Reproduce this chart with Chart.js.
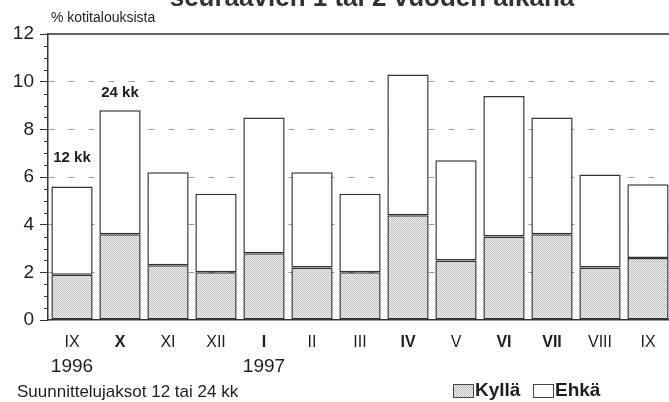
<!DOCTYPE html>
<html>
<head>
<meta charset="utf-8">
<script src="https://cdn.jsdelivr.net/npm/chart.js@4/dist/chart.umd.min.js"></script>
<style>
  html, body { margin: 0; padding: 0; background: #fff; overflow: hidden; }
  canvas { display: block; }
</style>
</head>
<body>
<canvas id="kotitaloudet" width="680" height="402"></canvas>
<script>
// kuukaudet (roomalaiset numerot), lihavoidut = 24 kk suunnittelujakso
const months = ['IX', 'X', 'XI', 'XII', 'I', 'II', 'III', 'IV', 'V', 'VI', 'VII', 'VIII', 'IX'];
const boldMonths = [false, true, false, false, true, false, false, true, false, true, true, false, false];
const yearLabels = ['1996', '', '', '', '1997', '', '', '', '', '', '', '', ''];

// % kotitalouksista
const kylla = [1.9, 3.6, 2.3, 2.0, 2.8, 2.2, 2.0, 4.4, 2.5, 3.5, 3.6, 2.2, 2.6];
const ehka  = [3.7, 5.2, 3.9, 3.3, 5.7, 4.0, 3.3, 5.9, 4.2, 5.9, 4.9, 3.9, 3.1];

const yMin = 0;
const yMax = 12;
const yStep = 2;
const yMinorStep = 0.5;

const FONT = '"Liberation Sans", Arial, Helvetica, sans-serif';
const INK = '#1e1e1e';

// pisterasteri Kyllä-palkeille
function makeStipple() {
    const c = document.createElement('canvas');
    c.width = 2; c.height = 2;
    const g = c.getContext('2d');
    g.fillStyle = '#f2f2f2';
    g.fillRect(0, 0, 2, 2);
    g.fillStyle = '#bdbdbd';
    g.fillRect(0, 0, 1, 1);
    g.fillRect(1, 1, 1, 1);
    return g.createPattern(c, 'repeat');
}
const stipple = makeStipple();

const extras = {
    id: 'extras',
    afterDraw(chart) {
        const ctx = chart.ctx;
        const area = chart.chartArea;
        const x = chart.scales.x;
        const y = chart.scales.y;
        ctx.save();

        // yläreuna (12)
        ctx.strokeStyle = '#333';
        ctx.lineWidth = 1.5;
        ctx.beginPath();
        ctx.moveTo(area.left, y.getPixelForValue(yMax));
        ctx.lineTo(chart.width, y.getPixelForValue(yMax));
        ctx.stroke();

        // pienet jakoviivat
        ctx.lineWidth = 1;
        for (let v = yMin; v <= yMax; v += yMinorStep) {
            if (v % yStep === 0) continue;
            const py = Math.round(y.getPixelForValue(v)) + 0.5;
            ctx.beginPath();
            ctx.moveTo(area.left - 4, py);
            ctx.lineTo(area.left, py);
            ctx.stroke();
        }

        ctx.fillStyle = INK;
        ctx.textBaseline = 'middle';

        // vuodet
        ctx.textAlign = 'center';
        ctx.font = '19px ' + FONT;
        yearLabels.forEach((yr, i) => {
            if (yr) ctx.fillText(yr, x.getPixelForValue(i), 367);
        });

        // 12 kk / 24 kk
        ctx.font = 'bold 15px ' + FONT;
        ctx.fillText('12 kk', x.getPixelForValue(0), y.getPixelForValue(6.8));
        ctx.fillText('24 kk', x.getPixelForValue(1), y.getPixelForValue(9.55));

        // akselin otsikko
        ctx.textAlign = 'left';
        ctx.font = '14px ' + FONT;
        ctx.fillText('% kotitalouksista', 51, 18);

        // alateksti
        ctx.font = '17px ' + FONT;
        ctx.fillText('Suunnittelujaksot 12 tai 24 kk', 17, 392);

        // selite
        ctx.lineWidth = 1;
        ctx.strokeStyle = '#444';
        ctx.fillStyle = stipple;
        ctx.fillRect(453, 384, 20, 13);
        ctx.strokeRect(453.5, 384.5, 20, 13);
        ctx.fillStyle = '#fff';
        ctx.fillRect(533, 384, 20, 13);
        ctx.strokeRect(533.5, 384.5, 20, 13);
        ctx.fillStyle = INK;
        ctx.font = 'bold 19px ' + FONT;
        ctx.fillText('Kyllä', 475, 391);
        ctx.fillText('Ehkä', 555, 391);

        // leikkautunut otsikko
        ctx.textAlign = 'center';
        ctx.textBaseline = 'alphabetic';
        ctx.font = 'bold 26px ' + FONT;
        ctx.fillStyle = '#333';
        ctx.fillText('seuraavien 1 tai 2 vuoden aikana', 372, 6);

        ctx.restore();
    }
};

new Chart(document.getElementById('kotitaloudet'), {
    type: 'bar',
    data: {
        labels: months,
        datasets: [
            {
                label: 'Kyllä',
                data: kylla,
                backgroundColor: stipple,
                borderColor: '#333',
                borderWidth: 1.5,
                borderSkipped: false
            },
            {
                label: 'Ehkä',
                data: ehka,
                backgroundColor: '#fff',
                borderColor: '#333',
                borderWidth: 1.5,
                borderSkipped: false
            }
        ]
    },
    options: {
        responsive: false,
        animation: false,
        events: [],
        layout: { padding: { top: 34, right: 8, left: 0, bottom: 0 } },
        datasets: { bar: { categoryPercentage: 1, barPercentage: 0.86 } },
        plugins: {
            legend: { display: false },
            tooltip: { enabled: false },
            title: { display: false }
        },
        scales: {
            x: {
                stacked: true,
                afterFit: s => { s.height = 82; },
                grid: { display: false, drawTicks: false },
                border: { display: true, color: '#333', width: 1.5 },
                ticks: {
                    padding: 13,
                    color: INK,
                    maxRotation: 0,
                    autoSkip: false,
                    font: c => ({ family: FONT, size: 16, weight: boldMonths[c.index] ? 'bold' : 'normal' })
                }
            },
            y: {
                stacked: true,
                min: yMin,
                max: yMax,
                afterFit: s => { s.width = 48; },
                grid: {
                    color: c => (c.tick && c.tick.value > yMin && c.tick.value < yMax) ? '#999' : 'rgba(0,0,0,0)',
                    lineWidth: 1,
                    tickColor: '#333',
                    tickLength: 8,
                    drawTicks: true
                },
                border: { display: true, color: '#333', width: 1.5, dash: [6, 14] },
                ticks: {
                    stepSize: yStep,
                    padding: 6,
                    color: INK,
                    font: { family: FONT, size: 19 }
                }
            }
        }
    },
    plugins: [extras]
});
</script>
</body>
</html>
